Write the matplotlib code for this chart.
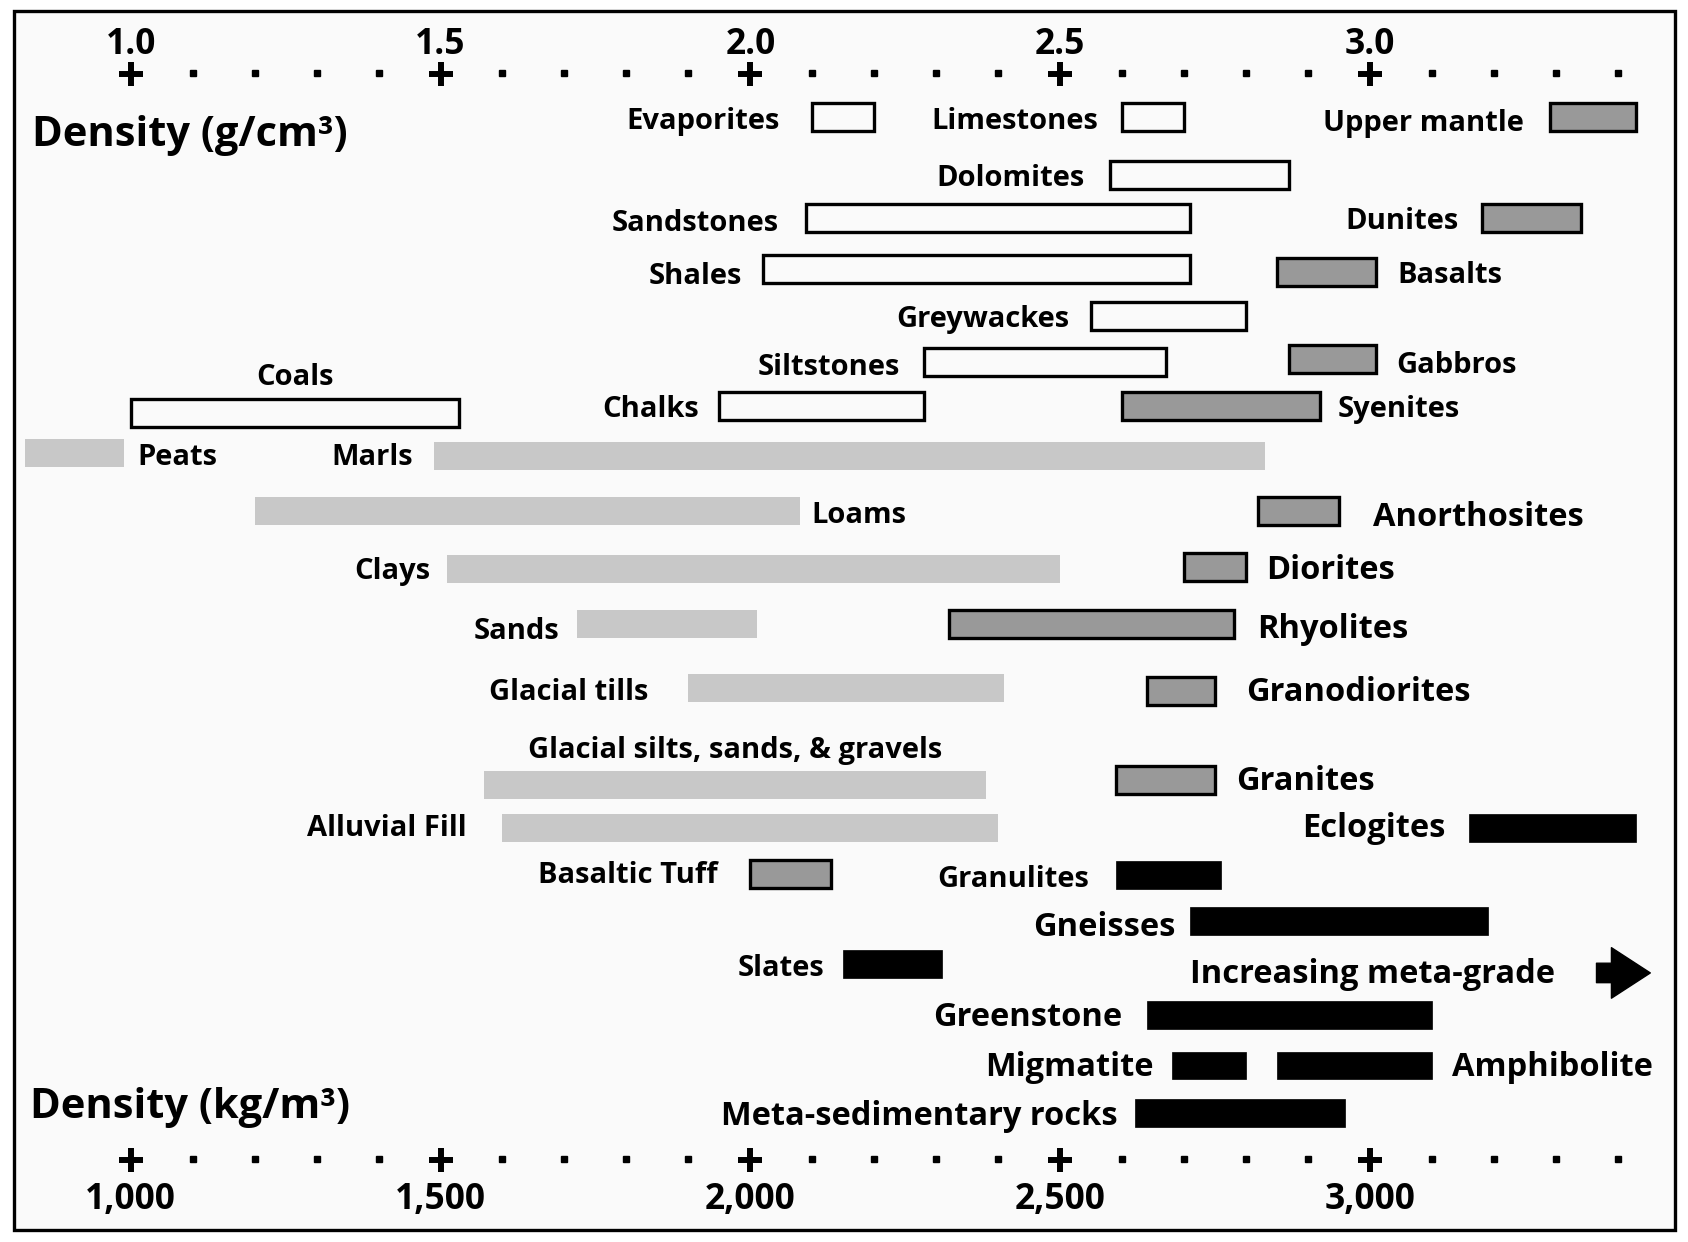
import matplotlib
matplotlib.use("Agg")
import matplotlib.pyplot as plt
from matplotlib.patches import Rectangle

plt.rcParams["font.family"] = ["Open Sans", "DejaVu Sans"]
plt.rcParams["font.weight"] = "bold"

# rock types: density range in g/cm3
names = ["Evaporites", "Limestones", "Upper mantle", "Dolomites", "Sandstones", "Dunites",
         "Shales", "Basalts", "Greywackes", "Siltstones", "Gabbros", "Coals", "Chalks",
         "Syenites", "Peats", "Marls", "Loams", "Anorthosites", "Clays", "Diorites", "Sands",
         "Rhyolites", "Glacial tills", "Granodiorites", "Glacial silts, sands, & gravels",
         "Granites", "Alluvial Fill", "Eclogites", "Basaltic Tuff", "Granulites", "Gneisses",
         "Slates", "Greenstone", "Migmatite", "Amphibolite", "Meta-sedimentary rocks"]
low = [2.10, 2.60, 3.29, 2.58, 2.09, 3.18, 2.02, 2.85, 2.55, 2.28, 2.87, 1.00, 1.95,
       2.60, 0.83, 1.49, 1.20, 2.82, 1.51, 2.70, 1.72, 2.32, 1.90, 2.64, 1.57,
       2.59, 1.60, 3.16, 2.00, 2.59, 2.71, 2.15, 2.64, 2.68, 2.85, 2.62]
high = [2.20, 2.70, 3.43, 2.87, 2.71, 3.34, 2.71, 3.01, 2.80, 2.67, 3.01, 1.53, 2.28,
        2.92, 0.99, 2.83, 2.08, 2.95, 2.50, 2.80, 2.01, 2.78, 2.41, 2.75, 2.38,
        2.75, 2.40, 3.43, 2.13, 2.76, 3.19, 2.31, 3.10, 2.80, 3.10, 2.96]
kind = ["sed", "sed", "ign", "sed", "sed", "ign", "sed", "ign", "sed", "sed", "ign", "sed", "sed",
        "ign", "unc", "unc", "unc", "ign", "unc", "ign", "unc", "ign", "unc", "ign", "unc",
        "ign", "unc", "met", "ign", "met", "met", "met", "met", "met", "met", "met"]

major_ticks = [1.0, 1.5, 2.0, 2.5, 3.0]
minor_ticks = [1.1, 1.2, 1.3, 1.4, 1.6, 1.7, 1.8, 1.9, 2.1, 2.2, 2.3, 2.4, 2.6, 2.7, 2.8, 2.9,
               3.1, 3.2, 3.3, 3.4]
top_labels = ["1.0", "1.5", "2.0", "2.5", "3.0"]
bottom_labels = ["1,000", "1,500", "2,000", "2,500", "3,000"]

# layout (vertical position in picture rows, label side, gap to bar, label size)
row_y = [109, 109, 109, 163, 203, 203, 250, 253, 294, 336, 334, 384, 377,
         377, 421, 424, 475, 475, 529, 527, 580, 580, 639, 642, 729,
         725, 769, 769, 812, 813, 856, 896, 943, 990, 990, 1034]
label_y = [110, 110, 112, 163, 205, 203, 254, 253, 294, 338, 337, 348, 377,
           377, 422, 422, 476, 479, 528, 528, 584, 583, 640, 641, 694,
           724, 767, 768, 810, 814, 860, 897, 943, 990, 990, 1035]
side = ["L", "L", "L", "L", "L", "L", "L", "R", "L", "L", "R", "A", "L",
        "R", "R", "L", "R", "R", "L", "R", "L", "R", "L", "R", "A",
        "R", "L", "L", "L", "L", "L", "L", "L", "L", "R", "L"]
gap = [30, 22, 24, 23, 25, 21, 19, 20, 20, 22, 19, 0, 19,
       16, 12, 20, 11, 32, 15, 19, 16, 22, 37, 29, 0,
       20, 33, 22, 30, 25, 14, 18, 23, 17, 19, 16]
big = ["Anorthosites", "Diorites", "Rhyolites", "Granodiorites", "Granites", "Eclogites",
       "Gneisses", "Greenstone", "Migmatite", "Amphibolite", "Meta-sedimentary rocks"]

styles = {
    "sed": dict(color="#fafafa", edgecolor="black", linewidth=2.4),
    "ign": dict(color="#999999", edgecolor="black", linewidth=2.4),
    "unc": dict(color="#c8c8c8", edgecolor="none", linewidth=0),
    "met": dict(color="black", edgecolor="black", linewidth=0.5),
}

PX = 575.6  # picture px per 1 g/cm3
fig = plt.figure(figsize=(16.88, 12.42), dpi=100)
ax = fig.add_axes([0, 0, 1, 1])
ax.set_xlim(2 - 697 / PX, 2 + 871 / PX)
ax.set_ylim(1154, 0)
ax.axis("off")

ax.add_patch(Rectangle((0.0083, 0.0095), 0.984, 0.9818, transform=ax.transAxes,
                       facecolor="#fafafa", edgecolor="black", linewidth=2.4, zorder=0))

for n, lo, hi, k, y, ly, s, g in zip(names, low, high, kind, row_y, label_y, side, gap):
    ax.barh(y, hi - lo, left=lo, height=26, zorder=2, **styles[k])
    fs = 23.5 if n in big else 21
    if s == "L":
        ax.text(lo - g / PX, ly + 10, n, ha="right", va="baseline", fontsize=fs)
    elif s == "R":
        ax.text(hi + g / PX, ly + 10, n, ha="left", va="baseline", fontsize=fs)
    else:
        ax.text((lo + hi) / 2, ly + 10, n, ha="center", va="baseline", fontsize=fs)

# axis marks, top (g/cm3) and bottom (kg/m3)
for yy in (69, 1078):
    ax.plot(major_ticks, [yy] * len(major_ticks), ls="none", marker="+", ms=17, mew=4.3,
            color="black")
    ax.plot(minor_ticks, [yy - 1] * len(minor_ticks), ls="none", marker="s", ms=4.3,
            color="black")
for t, a, b in zip(major_ticks, top_labels, bottom_labels):
    ax.text(t, 50, a, ha="center", va="baseline", fontsize=25.5)
    ax.text(t, 1123, b, ha="center", va="baseline", fontsize=25.5)

ax.text(2 + (30 - 697) / PX, 136, "Density (g/cm³)", ha="left", va="baseline", fontsize=30)
ax.text(2 + (28 - 697) / PX, 1039, "Density (kg/m³)", ha="left", va="baseline", fontsize=30)

ax.text(2 + (1275 - 697) / PX, 913, "Increasing meta-grade", ha="center", va="baseline",
        fontsize=23.5)
ax.annotate("", xy=(2 + (1533 - 697) / PX, 904), xytext=(2 + (1483 - 697) / PX, 904),
            arrowprops=dict(arrowstyle="simple,head_length=1.0,head_width=1.3,tail_width=0.5",
                            color="black", mutation_scale=28, shrinkA=0, shrinkB=0))

fig.savefig("out.png", dpi=100, facecolor="white")
